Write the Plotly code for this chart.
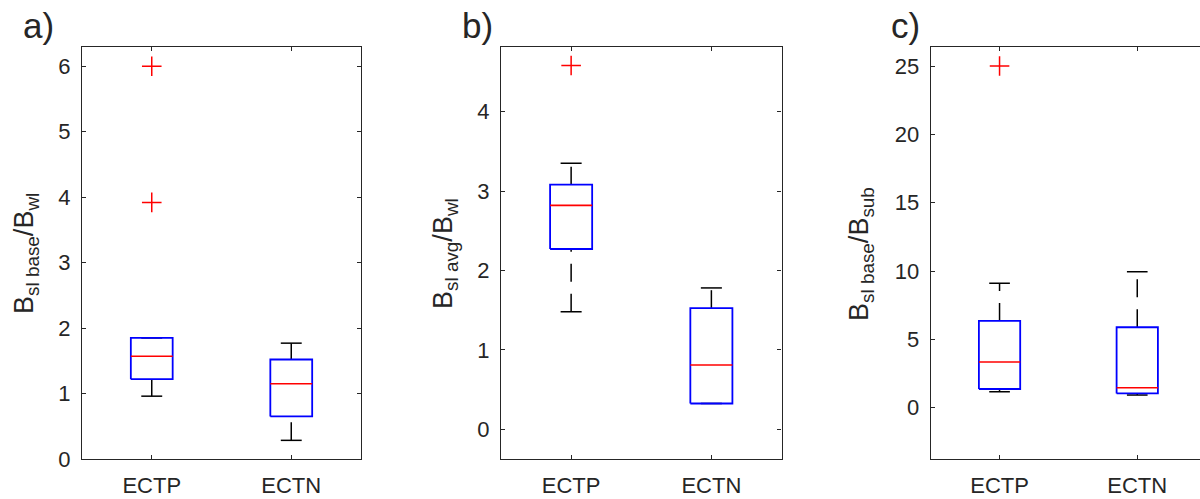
import plotly.graph_objects as go

# ---------------- data ----------------
categories = ["ECTP", "ECTN"]
positions = [1, 2]

# panel a: B_sl base / B_wl
a_q1 = [1.22, 0.65]
a_median = [1.57, 1.15]
a_q3 = [1.85, 1.52]
a_lower = [0.96, 0.285]
a_upper = [1.85, 1.77]
a_outliers = [[6.0, 3.92], []]

# panel b: B_sl avg / B_wl
b_q1 = [2.27, 0.325]
b_median = [2.82, 0.81]
b_q3 = [3.08, 1.525]
b_lower = [1.48, 0.325]
b_upper = [3.35, 1.78]
b_outliers = [[4.58], []]

# panel c: B_sl base / B_sub
c_q1 = [1.37, 1.05]
c_median = [3.35, 1.46]
c_q3 = [6.35, 5.89]
c_lower = [1.17, 0.93]
c_upper = [9.1, 9.95]
c_outliers = [[25.0], []]

panel_labels = ["a)", "b)", "c)"]
y_titles = [
    "B<sub>sl base</sub>/B<sub>wl</sub>",
    "B<sub>sl avg</sub>/B<sub>wl</sub>",
    "B<sub>sl base</sub>/B<sub>sub</sub>",
]
y_ranges = [[0, 6.29], [-0.374, 4.81], [-3.75, 26.37]]
y_ticks = [[0, 1, 2, 3, 4, 5, 6], [0, 1, 2, 3, 4], [0, 5, 10, 15, 20, 25]]

panels = [
    (a_q1, a_median, a_q3, a_lower, a_upper, a_outliers),
    (b_q1, b_median, b_q3, b_lower, b_upper, b_outliers),
    (c_q1, c_median, c_q3, c_lower, c_upper, c_outliers),
]

# ---------------- style / layout ----------------
W = 1200
H = 499
FONT = "Liberation Sans, Arial, Helvetica, sans-serif"
AXC = "#262626"
BOX_W = 0.30
CAP_W = 0.15

x_px = [(82, 361), (501, 781.5), (930.7, 1200)]
x_ranges = [[0.5, 2.5], [0.5, 2.5], [0.5, 0.5 + (1200 - 930.7) / 137.7]]
y_px = (47.3, 459)
title_x_px = [26, 445, 861]
label_x_px = [21, 460, 889]

fig = go.Figure()

for i, (q1, med, q3, lo, up, outs) in enumerate(panels):
    n = "" if i == 0 else str(i + 1)
    xa, ya = "x" + n, "y" + n
    # whiskers (dashed, drawn bottom to top)
    for p, a, b, c, d in zip(positions, lo, q1, q3, up):
        for y0, y1 in ((a, b), (c, d)):
            if y1 > y0:
                fig.add_trace(go.Scatter(
                    x=[p, p], y=[y0, y1], mode="lines", xaxis=xa, yaxis=ya,
                    line=dict(color="black", width=1.5, dash="18px,12px"),
                    hoverinfo="skip", showlegend=False))
    # whisker caps
    cx, cy = [], []
    for p, a, d in zip(positions, lo, up):
        cx += [p - CAP_W / 2, p + CAP_W / 2, None, p - CAP_W / 2, p + CAP_W / 2, None]
        cy += [a, a, None, d, d, None]
    fig.add_trace(go.Scatter(x=cx, y=cy, mode="lines", xaxis=xa, yaxis=ya,
                             line=dict(color="black", width=1.5),
                             hoverinfo="skip", showlegend=False))
    # boxes (q1..q3 rectangles)
    bx, by = [], []
    for p, a, b in zip(positions, q1, q3):
        bx += [p - BOX_W / 2, p + BOX_W / 2, p + BOX_W / 2, p - BOX_W / 2, p - BOX_W / 2, None]
        by += [a, a, b, b, a, None]
    fig.add_trace(go.Scatter(x=bx, y=by, mode="lines", xaxis=xa, yaxis=ya,
                             line=dict(color="#0000ff", width=1.8),
                             hoverinfo="skip", showlegend=False))
    # medians
    mx, my = [], []
    for p, m in zip(positions, med):
        mx += [p - BOX_W / 2, p + BOX_W / 2, None]
        my += [m, m, None]
    fig.add_trace(go.Scatter(x=mx, y=my, mode="lines", xaxis=xa, yaxis=ya,
                             line=dict(color="#ff0000", width=1.6),
                             hoverinfo="skip", showlegend=False))
    # outliers
    ox, oy = [], []
    for p, o in zip(positions, outs):
        ox += [p] * len(o)
        oy += o
    fig.add_trace(go.Scatter(x=ox, y=oy, mode="markers", xaxis=xa, yaxis=ya,
                             marker=dict(symbol="cross-thin", size=14,
                                         line=dict(color="#ff0000", width=1.5)),
                             hoverinfo="skip", showlegend=False))

    x0, x1 = x_px[i]
    common = dict(showgrid=False, zeroline=False, showline=True, linecolor=AXC,
                  linewidth=1.2, ticks="inside", ticklen=4, tickcolor=AXC,
                  automargin=False,
                  tickfont=dict(family=FONT, size=22, color=AXC))
    fig.layout["xaxis" + n] = dict(
        domain=[x0 / W, x1 / W], anchor=ya, range=x_ranges[i],
        tickvals=positions, ticktext=categories, mirror="ticks",
        ticklabelstandoff=6, **common)
    fig.layout["yaxis" + n] = dict(
        domain=[1 - y_px[1] / H, 1 - y_px[0] / H], anchor=xa, range=y_ranges[i],
        tickvals=y_ticks[i], mirror=("ticks" if i < 2 else False),
        ticklabelstandoff=6, **common)

    fig.add_annotation(text=y_titles[i], textangle=-90, showarrow=False,
                       xref="paper", yref="paper", x=title_x_px[i] / W,
                       y=1 - 254 / H, xanchor="center", yanchor="middle",
                       font=dict(family=FONT, size=27, color=AXC))
    fig.add_annotation(text=panel_labels[i], showarrow=False,
                       xref="paper", yref="paper", x=label_x_px[i] / W,
                       y=1 - 25 / H, xanchor="left", yanchor="middle",
                       font=dict(family=FONT, size=35, color=AXC))

fig.update_layout(width=W, height=H, autosize=False,
                  margin=dict(l=0, r=0, t=0, b=0, pad=0, autoexpand=False),
                  paper_bgcolor="white", plot_bgcolor="white",
                  showlegend=False)

fig.write_html("out.html", config={"responsive": False})
